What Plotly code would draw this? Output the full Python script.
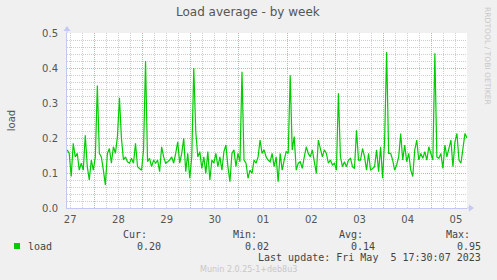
import plotly.graph_objects as go
import pandas as pd

# ---- data ----
start_time = "2023-04-27 10:30"
load = [
    0.166, 0.156, 0.090, 0.185, 0.146, 0.156, 0.108, 0.128, 0.108, 0.208,
    0.118, 0.080, 0.137, 0.108, 0.146, 0.350, 0.156, 0.146, 0.108, 0.066,
    0.156, 0.170, 0.128, 0.175, 0.156, 0.204, 0.315, 0.199, 0.137, 0.146,
    0.132, 0.128, 0.142, 0.128, 0.185, 0.118, 0.113, 0.108, 0.166, 0.420,
    0.132, 0.142, 0.118, 0.137, 0.128, 0.137, 0.104, 0.175, 0.146, 0.128,
    0.132, 0.137, 0.146, 0.128, 0.156, 0.189, 0.128, 0.156, 0.199, 0.104,
    0.156, 0.085, 0.146, 0.400, 0.218, 0.146, 0.161, 0.113, 0.146, 0.099,
    0.161, 0.080, 0.137, 0.128, 0.156, 0.118, 0.146, 0.108, 0.161, 0.180,
    0.118, 0.075, 0.156, 0.166, 0.118, 0.156, 0.132, 0.389, 0.137, 0.128,
    0.085, 0.108, 0.099, 0.137, 0.128, 0.146, 0.194, 0.156, 0.166, 0.146,
    0.137, 0.132, 0.156, 0.118, 0.146, 0.075, 0.156, 0.108, 0.137, 0.161,
    0.156, 0.379, 0.166, 0.204, 0.108, 0.128, 0.132, 0.113, 0.146, 0.175,
    0.156, 0.146, 0.166, 0.128, 0.099, 0.194, 0.170, 0.146, 0.166, 0.156,
    0.128, 0.137, 0.123, 0.128, 0.108, 0.328, 0.146, 0.118, 0.132, 0.118,
    0.137, 0.142, 0.118, 0.113, 0.222, 0.137, 0.137, 0.170, 0.146, 0.108,
    0.156, 0.108, 0.113, 0.118, 0.166, 0.104, 0.175, 0.085, 0.194, 0.446,
    0.156, 0.156, 0.137, 0.108, 0.123, 0.146, 0.213, 0.137, 0.180, 0.132,
    0.156, 0.108, 0.090, 0.166, 0.194, 0.137, 0.156, 0.142, 0.161, 0.137,
    0.175, 0.156, 0.137, 0.442, 0.146, 0.142, 0.156, 0.113, 0.180, 0.146,
    0.170, 0.194, 0.118, 0.189, 0.213, 0.137, 0.128, 0.180, 0.213, 0.200,
]
x_range = ["2023-04-27 10:24", "2023-05-05 17:30"]
day_ticks = ["2023-04-27 12:00", "2023-04-28 12:00", "2023-04-29 12:00",
             "2023-04-30 12:00", "2023-05-01 12:00", "2023-05-02 12:00",
             "2023-05-03 12:00", "2023-05-04 12:00", "2023-05-05 12:00"]
day_labels = ["27", "28", "29", "30", "01", "02", "03", "04", "05"]
y_ticks = [0.0, 0.1, 0.2, 0.3, 0.4, 0.5]
y_labels = ["0.0", "0.1", "0.2", "0.3", "0.4", "0.5"]
stat_names = ["Cur:", "Min:", "Avg:", "Max:"]
stat_values = ["0.20", "0.02", "0.14", "0.95"]
series_name = "load"
title_text = "Load average - by week"
last_update = "Last update: Fri May  5 17:30:07 2023"
version_text = "Munin 2.0.25-1+deb8u3"
side_text = "RRDTOOL / TOBI OETIKER"

times = pd.date_range(start_time, periods=len(load), freq="h")

# ---- geometry ----
W, H = 497, 280
L, R, T, B = 67, 467, 33, 208


def px(x):
    return (x - L) / (R - L)


def py(y):
    return (B - y) / (B - T)


AXIS = "#c4c8f4"
MAJOR = "#f0a4a4"
MINOR = "#cdcdcd"
GREEN = "#00cc00"
SANS = "DejaVu Sans"
MONO = "DejaVu Sans Mono"

fig = go.Figure()
fig.add_trace(go.Scatter(x=times, y=load, mode="lines",
                         line=dict(color=GREEN, width=1.2),
                         showlegend=False, hoverinfo="skip"))
# invisible trace to activate the label axis
fig.add_trace(go.Scatter(x=[times[0]], y=[None], xaxis="x2", showlegend=False,
                         hoverinfo="skip"))

fig.update_layout(
    width=W, height=H,
    margin=dict(l=L, r=W - R, t=T, b=H - B, pad=0),
    paper_bgcolor="#f0f0f0", plot_bgcolor="#ffffff",
    showlegend=False,
    xaxis=dict(
        type="date", range=x_range,
        showticklabels=False, ticks="",
        tick0="2023-04-28", dtick=86400000,
        showgrid=True, gridcolor=MAJOR, griddash="1px,1px", gridwidth=1,
        minor=dict(dtick=6 * 3600000, tick0="2023-04-28", showgrid=True,
                   gridcolor=MINOR, griddash="1px,1px", gridwidth=1),
        showline=True, linecolor=AXIS, linewidth=1,
        zeroline=False, fixedrange=True,
    ),
    xaxis2=dict(
        type="date", range=x_range, overlaying="x", side="bottom",
        tickmode="array", tickvals=day_ticks, ticktext=day_labels,
        showgrid=False, ticks="outside", ticklen=2, tickcolor="rgba(0,0,0,0)",
        tickfont=dict(family=SANS, size=10, color="#555555"),
        showline=False, zeroline=False, fixedrange=True,
    ),
    yaxis=dict(
        range=[0, 0.5], tickmode="array", tickvals=y_ticks, ticktext=y_labels,
        showgrid=True, gridcolor=MAJOR, griddash="1px,1px", gridwidth=1,
        minor=dict(dtick=0.02, tick0=0, showgrid=True, gridcolor=MINOR,
                   griddash="1px,1px", gridwidth=1),
        ticks="outside", ticklen=6, tickcolor="rgba(0,0,0,0)",
        tickfont=dict(family=SANS, size=10, color="#555555"),
        showline=True, linecolor=AXIS, linewidth=1,
        zeroline=False, fixedrange=True,
        title=dict(text=series_name, font=dict(family=SANS, size=10, color="#555555"),
                   standoff=24),
    ),
)

shapes = []
# axis extensions with arrows
shapes.append(dict(type="line", xref="paper", yref="paper",
                   x0=1, x1=px(471), y0=0, y1=0, line=dict(color=AXIS, width=1)))
shapes.append(dict(type="path", xref="paper", yref="paper",
                   path=f"M {px(469)} {py(204.5)} L {px(474)} {py(208)} L {px(469)} {py(211.5)} Z",
                   fillcolor=AXIS, line=dict(color=AXIS, width=0)))
shapes.append(dict(type="line", xref="paper", yref="paper",
                   x0=0, x1=0, y0=1, y1=py(29), line=dict(color=AXIS, width=1)))
shapes.append(dict(type="path", xref="paper", yref="paper",
                   path=f"M {px(63.5)} {py(31)} L {px(67)} {py(26)} L {px(70.5)} {py(31)} Z",
                   fillcolor=AXIS, line=dict(color=AXIS, width=0)))
# legend swatch
shapes.append(dict(type="rect", xref="paper", yref="paper",
                   x0=px(14), x1=px(20), y0=py(249), y1=py(243),
                   fillcolor=GREEN, line=dict(color=GREEN, width=0)))
fig.update_layout(shapes=shapes)

ann = []
ann.append(dict(text=title_text, x=px(248), y=py(12), xref="paper", yref="paper",
                xanchor="center", yanchor="middle", showarrow=False,
                font=dict(family=SANS, size=12, color="#555555")))
ann.append(dict(text=side_text, x=px(488), y=py(56), xref="paper", yref="paper",
                xanchor="center", yanchor="middle", showarrow=False, textangle=90,
                font=dict(family=SANS, size=7.6, color="#c8c8c8")))
ann.append(dict(text=series_name, x=px(26), y=py(246), xref="paper", yref="paper",
                xanchor="left", yanchor="middle", showarrow=False,
                font=dict(family=MONO, size=10, color="#444444")))
name_right = [149, 259, 365, 472]
val_right = [163, 271, 377, 483]
for i in range(len(stat_names)):
    ann.append(dict(text=stat_names[i], x=px(name_right[i]), y=py(234),
                    xref="paper", yref="paper", xanchor="right", yanchor="middle",
                    showarrow=False, font=dict(family=MONO, size=10, color="#444444")))
    ann.append(dict(text=stat_values[i], x=px(val_right[i]), y=py(246),
                    xref="paper", yref="paper", xanchor="right", yanchor="middle",
                    showarrow=False, font=dict(family=MONO, size=10, color="#444444")))
ann.append(dict(text=last_update, x=px(483), y=py(257), xref="paper", yref="paper",
                xanchor="right", yanchor="middle", showarrow=False,
                font=dict(family=MONO, size=10, color="#444444")))
ann.append(dict(text=version_text, x=px(248), y=py(269), xref="paper", yref="paper",
                xanchor="center", yanchor="middle", showarrow=False,
                font=dict(family=SANS, size=8, color="#c8c8c8")))
fig.update_layout(annotations=ann)

fig.write_html("out.html", config={"displayModeBar": False})
